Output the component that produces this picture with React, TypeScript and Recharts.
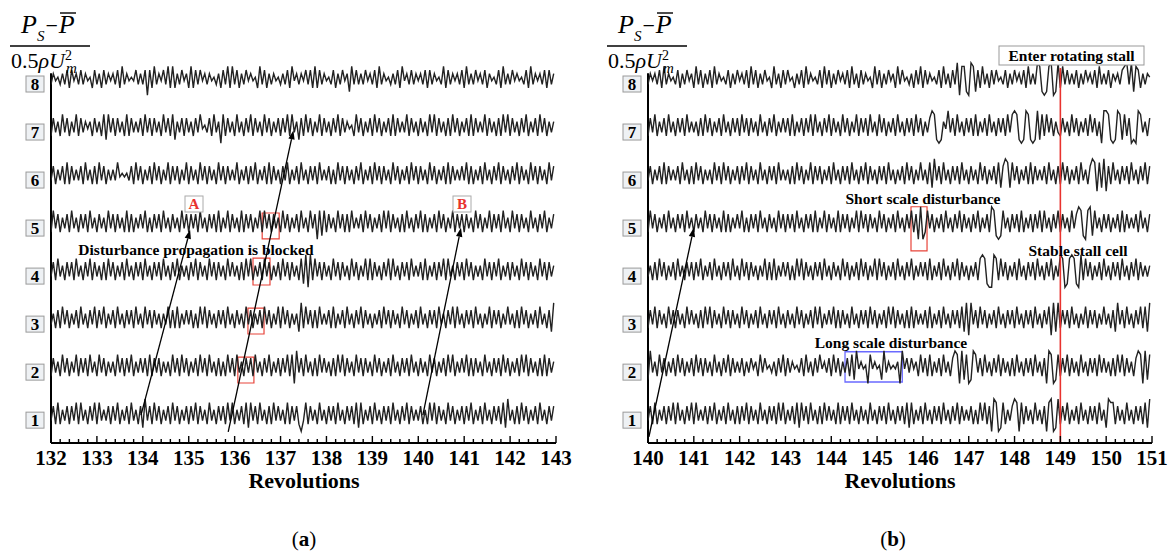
import React from "react";
import { LineChart, Line, XAxis, YAxis, ReferenceLine, ReferenceArea } from "recharts";

// one string per probe, one "|"-group per revolution, each digit = one sample (0..9, centred at 4.5)
const channels = [1, 2, 3, 4, 5, 6, 7, 8];
const ticksA = [132, 133, 134, 135, 136, 137, 138, 139, 140, 141, 142, 143];
const ticksB = [140, 141, 142, 143, 144, 145, 146, 147, 148, 149, 150, 151];

// panel (a): 132 - 143 revolutions
const a1 = "37282637273828362738|28363727382637283627|19372837263728372637|27382736283627372838|26372818372836272837|36282737203827362836|27372836273728182637|28362737283627382736|37262838273628372637|27382637283627372819|36272837263728362737";
const a2 = "27362837263827372836|28372636283727382637|37282737263628372837|26372837283627262837|28362737283627382637|27382809372836272837|36272838273628372736|28372637283627372836|27362837263728382637|38272736283627372837|26372838273627282736";
const a3 = "36272837263728362738|27382637283627372836|28372736263827282637|37262838273627372836|27362837263728372638|28372636192837272836|37282637283627382736|26372837273628372637|28362737283627382836|27372836263827372638|36272837263728362719";
const a4 = "37283627372836273827|36272837263728362737|28362737283627382636|27382736283727362837|36272838263728372637|28372736281909283727|36283727362837263828|27362738283627372836|37282637273828362737|28372636283727382637|27362837273628372736";
const a5 = "28372637283627372836|27362837273628272637|38262737283627362837|27372836273728263827|36282737263828372736|28372637283628370818|27362837272836372837|26372838273627283627|38272637283726382737|27362837263827372836|28372736283627382637";
const a6 = "37263728273637283627|28372636384545372837|26372837263827372638|27362837273628372736|38263727382637282736|27382637283627372836|37262837273627382637|28372736283726372837|27362837263728273637|38272637283627382736|27382736283727362837";
const a7 = "27362837263827364627|36281837273628273637|28372736283728163727|36273845372836082736|28362738273628372637|27382836172837263827|36273827364528372637|28372637282736382736|27362838273627283726|37282736382736272838|27362738263728372636";
const a8 = "36453637274637364527|36273646372836454736|37072836473828263746|28273746364536273828|37263746452837263645|36372846364737282736|45372637461837363746|37283645363728463736|46372736453827364637|28363746372645372836|37464537283646372736";

// panel (b): 140 - 151 revolutions
const b1 = "37282637273828362738|28363727382637283627|27382736283627372838|26372818372836272837|36282737283627362836|27372836273728182637|28362737283627382736|37262838270980182637|98082736283627089019|27382637283627372836|19882736283627372819";
const b2 = "19362837263728372637|28372736283627382736|37263746283745362738|27364537283627384637|28372637281946450846|45193645460947374628|37282637283627980918|01983728362738273627|28362737283627098018|27382736283627372837|36272838273627980918";
const b3 = "27382736283727362837|36272838273628372736|28372637283627372836|27362837263728382637|38272736283627372837|26372838273627282736|37282637283627372819|09372837263728362737|28362737283627380919|27372836263827372638|36271937283627382819";
const b4 = "36272837263728362737|27382637283627372836|28372736263827282637|37262838273627372836|27362837263728372638|28372637283627382637|37282637283627382736|26372898100982837263|72836273728362738263|98018981092837263728|36273728362738273636";
const b5 = "28372637283627372836|27362837273628272637|38262737283627362837|27372836273728263827|36282737263828372736|28372637283627382709|02837263728362738273|62738263729810183627|37282637273828362738|27362837981089183627|37263728273637283627";
const b6 = "37263728273637283627|28372636283728372637|27382736283627372836|36272837263827372637|28362737283627382736|27372836263728372638|36281937283627372836|27362837263728179818|37263728273637283627|28372637283627980819|07283627372836273827";
const b7 = "27382637283627372836|36272837263728362737|28372736283627382637|37282637273828362738|27362837263827372836|28372637283627372837|26379810164937283627|37282637283627372838|98101981019182837263|27362837263728372609|98101981827010983627";
const b8 = "36463728364537263746|28372637283645372637|46372837263745283627|37452637283645372837|26374637283627364528|37263746283745362738|27364537283627390881|09817283627374537263|74637283639810189019|28373637263746372836|37264637893918726365";

const tracesA = [a1, a2, a3, a4, a5, a6, a7, a8];
const tracesB = [b1, b2, b3, b4, b5, b6, b7, b8];

const SERIF = "'Liberation Serif', 'Times New Roman', serif";
const AMP = 0.075;
const Y_MIN = 0.42;
const Y_MAX = 8.5;

function toSeries(raw: string, start: number, ch: number) {
  const pts: { x: number; y: number }[] = [];
  raw.split("|").forEach((rev, g) => {
    for (let j = 0; j < rev.length; j++) {
      pts.push({ x: start + g + j / rev.length, y: ch + (Number(rev[j]) - 4.5) * AMP });
    }
  });
  return pts;
}

const withMinor = (majors: number[]) =>
  majors.concat(
    majors.slice(0, -1).flatMap((t) => [0.2, 0.4, 0.6, 0.8].map((f) => +(t + f).toFixed(1)))
  );

const RevTick = (props: any) => {
  const { x, y, payload } = props;
  const v = payload.value;
  const major = Math.abs(v - Math.round(v)) < 1e-6;
  return (
    <g>
      <line x1={x} y1={y} x2={x} y2={y - (major ? 7 : 4)} stroke="#000" strokeWidth={1.4} />
      {major && (
        <text x={x} y={y + 22} textAnchor="middle" fontFamily={SERIF} fontWeight="bold" fontSize={21} fill="#000">
          {Math.round(v)}
        </text>
      )}
    </g>
  );
};

const ChannelTick = (props: any) => {
  const { x, y, payload } = props;
  return (
    <g>
      <rect x={x - 25} y={y - 3} width={18} height={16} fill="#eef1f4" stroke="#9a9a9a" strokeWidth={1} />
      <text x={x - 16} y={y + 11} textAnchor="middle" fontFamily={SERIF} fontWeight="bold" fontSize={17} fill="#000">
        {payload.value}
      </text>
    </g>
  );
};

const Arrow = (p: any) => {
  const { x1, y1, x2, y2 } = p;
  const ang = Math.atan2(y2 - y1, x2 - x1);
  const L = 9;
  const W = 3.2;
  const bx = x2 - L * Math.cos(ang);
  const by = y2 - L * Math.sin(ang);
  const pts = `${x2},${y2} ${bx + W * Math.sin(ang)},${by - W * Math.cos(ang)} ${bx - W * Math.sin(ang)},${by + W * Math.cos(ang)}`;
  return (
    <g>
      <line x1={x1} y1={y1} x2={bx} y2={by} stroke="#000" strokeWidth={1.3} />
      <polygon points={pts} fill="#000" />
    </g>
  );
};

function Panel({ traces, ticks, left, width, right, children }: any) {
  const start = ticks[0];
  const series = traces.map((raw: string, i: number) => toSeries(raw, start, channels[i]));
  return (
    <div style={{ position: "absolute", left, top: 0 }}>
      <LineChart width={width} height={551} margin={{ top: 55, left: 21, right, bottom: 78 }}>
        <XAxis
          dataKey="x"
          type="number"
          domain={[start, ticks[ticks.length - 1]]}
          allowDataOverflow
          ticks={withMinor(ticks)}
          interval={0}
          tick={<RevTick />}
          tickSize={0}
          tickMargin={0}
          tickLine={false}
          axisLine={{ stroke: "#000", strokeWidth: 2 }}
          height={30}
        />
        <YAxis
          type="number"
          domain={[Y_MIN, Y_MAX]}
          allowDataOverflow
          ticks={channels}
          interval={0}
          tick={<ChannelTick />}
          tickSize={0}
          tickMargin={0}
          tickLine={false}
          axisLine={false}
          width={30}
        />
        <ReferenceLine segment={[{ x: start, y: Y_MIN }, { x: start, y: 8.12 }]} stroke="#000" strokeWidth={2} />
        {series.map((d: any, i: number) => (
          <Line
            key={i}
            data={d}
            dataKey="y"
            type="linear"
            stroke="#222"
            strokeWidth={1.4}
            dot={false}
            isAnimationActive={false}
          />
        ))}
        {children}
      </LineChart>
    </div>
  );
}

const Fraction = ({ dx }: { dx: number }) => (
  <g transform={`translate(${dx},0)`} fontFamily={SERIF} fill="#000">
    <text x={21} y={33} fontSize={26} fontStyle="italic">
      P<tspan dy={8} fontSize={15}>S</tspan>
      <tspan dy={-8} dx={1} fontSize={22} fontStyle="normal">−</tspan>
      <tspan dx={1}>P</tspan>
    </text>
    <line x1={60} y1={13} x2={76} y2={13} stroke="#000" strokeWidth={1.4} />
    <line x1={10} y1={46} x2={90} y2={46} stroke="#000" strokeWidth={1.3} />
    <text x={11} y={68} fontSize={22}>
      0.5<tspan fontStyle="italic">ρU</tspan>
      <tspan dy={-8} fontSize={14}>2</tspan>
      <tspan dx={-6} dy={13} fontSize={15} fontStyle="italic">m</tspan>
    </text>
  </g>
);

const boldText = { fontFamily: SERIF, fontWeight: "bold" as const, fill: "#000" };

export default function App() {
  return (
    <div style={{ position: "absolute", left: 0, top: 0, width: 1172, height: 551, background: "#fff" }}>
      <Panel traces={tracesA} ticks={ticksA} left={0} width={586} right={30}>
        <ReferenceArea x1={136.07} x2={136.42} y1={1.67} y2={2.21} fill="none" fillOpacity={0} stroke="#e8443a" strokeWidth={1.2} />
        <ReferenceArea x1={136.29} x2={136.64} y1={2.69} y2={3.23} fill="none" fillOpacity={0} stroke="#e8443a" strokeWidth={1.2} />
        <ReferenceArea x1={136.4} x2={136.77} y1={3.71} y2={4.27} fill="none" fillOpacity={0} stroke="#e8443a" strokeWidth={1.2} />
        <ReferenceArea x1={136.6} x2={136.97} y1={4.67} y2={5.21} fill="none" fillOpacity={0} stroke="#e8443a" strokeWidth={1.2} />
        <ReferenceLine segment={[{ x: 133.96, y: 1.0 }, { x: 135.03, y: 4.86 }]} shape={<Arrow />} />
        <ReferenceLine segment={[{ x: 135.86, y: 0.65 }, { x: 137.28, y: 6.93 }]} shape={<Arrow />} />
        <ReferenceLine segment={[{ x: 140.1, y: 1.0 }, { x: 140.93, y: 4.9 }]} shape={<Arrow />} />
      </Panel>
      <Panel traces={tracesB} ticks={ticksB} left={597} width={575} right={20}>
        <ReferenceLine segment={[{ x: 149, y: Y_MIN }, { x: 149, y: 8.23 }]} stroke="#e8322e" strokeWidth={1.6} />
        <ReferenceArea x1={145.74} x2={146.09} y1={4.42} y2={5.34} fill="none" fillOpacity={0} stroke="#e8443a" strokeWidth={1.2} />
        <ReferenceArea x1={144.3} x2={145.55} y1={1.69} y2={2.32} fill="none" fillOpacity={0} stroke="#6a6aff" strokeWidth={1.3} />
        <ReferenceLine segment={[{ x: 140.02, y: 0.55 }, { x: 141.0, y: 4.9 }]} shape={<Arrow />} />
      </Panel>
      <svg width={1172} height={551} style={{ position: "absolute", left: 0, top: 0, pointerEvents: "none" }}>
        <Fraction dx={0} />
        <Fraction dx={597} />

        <text x={304} y={488} textAnchor="middle" fontSize={22} {...boldText}>Revolutions</text>
        <text x={900} y={488} textAnchor="middle" fontSize={22} {...boldText}>Revolutions</text>

        <text x={304} y={546} textAnchor="middle" fontSize={21} fontFamily={SERIF}>
          (<tspan fontWeight="bold">a</tspan>)
        </text>
        <text x={893} y={546} textAnchor="middle" fontSize={21} fontFamily={SERIF}>
          (<tspan fontWeight="bold">b</tspan>)
        </text>

        {/* panel (a) notes */}
        <rect x={185} y={196} width={18} height={16} fill="#fff" stroke="#aaa" strokeWidth={1} />
        <text x={194} y={209} textAnchor="middle" fontSize={15} fontFamily={SERIF} fontWeight="bold" fill="#e8322e">A</text>
        <rect x={453} y={196} width={18} height={16} fill="#fff" stroke="#aaa" strokeWidth={1} />
        <text x={462} y={209} textAnchor="middle" fontSize={15} fontFamily={SERIF} fontWeight="bold" fill="#e8322e">B</text>
        <text x={196} y={255} textAnchor="middle" fontSize={15.5} {...boldText}>Disturbance propagation is blocked</text>

        {/* panel (b) notes */}
        <rect x={999} y={46} width={145} height={19} fill="#fff" stroke="#999" strokeWidth={1} />
        <text x={1071.5} y={61} textAnchor="middle" fontSize={15.5} {...boldText}>Enter rotating stall</text>
        <text x={923} y={204} textAnchor="middle" fontSize={15.5} {...boldText}>Short scale disturbance</text>
        <text x={1078} y={256} textAnchor="middle" fontSize={15.5} {...boldText}>Stable stall cell</text>
        <text x={891} y={348} textAnchor="middle" fontSize={15.5} {...boldText}>Long scale disturbance</text>
      </svg>
    </div>
  );
}
